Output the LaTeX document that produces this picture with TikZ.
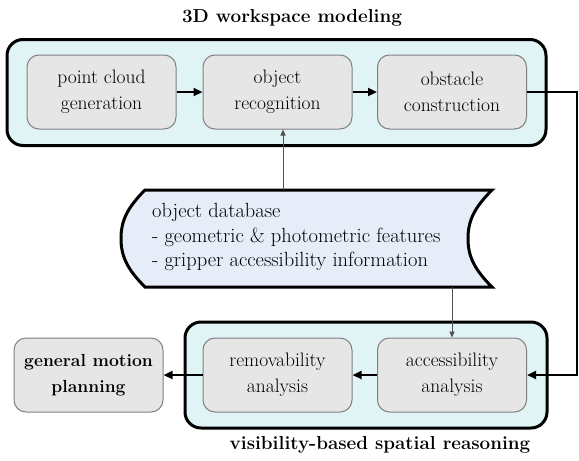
\documentclass[tikz,border=0pt]{standalone}
\usetikzlibrary{arrows.meta}

\definecolor{groupfill}{HTML}{E0F3F5}
\definecolor{stagefill}{HTML}{E6E6E6}
\definecolor{stageline}{HTML}{808080}
\definecolor{dbfill}{HTML}{E6EDF8}
\definecolor{thinline}{HTML}{505050}

\begin{document}
\begin{tikzpicture}[x=1pt,y=-1pt,
  group/.style={draw=black, line width=3pt, rounded corners=16pt, fill=groupfill,
    inner sep=0pt},
  stage/.style={draw=stageline, line width=1pt, rounded corners=12pt, fill=stagefill,
    minimum width=149pt, minimum height=74pt, align=center, inner sep=0pt,
    font=\fontsize{19.5}{26}\selectfont},
  title/.style={font=\fontsize{18.8}{24}\selectfont\bfseries},
  flow/.style={line width=2.6pt, -{Triangle[length=9pt,width=8pt]}},
  feed/.style={draw=thinline, line width=1pt, -{Triangle[length=6pt,width=5pt]}}
]
\useasboundingbox (0,0) rectangle (579,461);

% group frames
\node[group, minimum width=539pt, minimum height=106pt] (wsm) at (276.5,92.5) {};
\node[group, minimum width=362pt, minimum height=106pt] (vsr) at (366,375) {};

\node[title] (wsmlabel) at (292,18) {3D workspace modeling};
\node[title] (vsrlabel) at (380,445) {visibility-based spatial reasoning};

% modeling stages
\node[stage] (pcg) at (101.5,92) {point cloud\\generation};
\node[stage] (rec) at (277.5,92) {object\\recognition};
\node[stage] (obs) at (452,92) {obstacle\\construction};

% reasoning stages
\node[stage] (rem) at (277.5,375) {removability\\analysis};
\node[stage] (acc) at (452,375) {accessibility\\analysis};
\node[stage, font=\fontsize{17.5}{26}\selectfont\bfseries] (gmp) at (88.5,375) {general motion\\planning};

% object database (stored data shape)
\draw[line width=3pt, fill=dbfill, line join=miter]
  (145,190) -- (492,190)
  .. controls (474,208) and (468,221) .. (468,238.5)
  .. controls (468,256) and (474,269) .. (492,287)
  -- (145,287)
  .. controls (127,269) and (121,256) .. (121,238.5)
  .. controls (121,221) and (127,208) .. (145,190) -- cycle;
\node[anchor=west, align=left, inner sep=0pt,
  font=\fontsize{20.5}{24.5}\selectfont] (db) at (152,237)
  {object database\\- geometric \& photometric features\\- gripper accessibility information};
\coordinate (dbtop) at (283,190);
\coordinate (dbbot) at (452,287);

% connectors
\draw[flow] (pcg.east) -- (rec.west);
\draw[flow] (rec.east) -- (obs.west);
\coordinate (turn) at (577,92);
\draw[flow] (obs.east) -- (turn) |- (acc.east);
\draw[flow] (acc.west) -- (rem.east);
\draw[flow] (rem.west) -- (gmp.east);
\draw[feed] (dbtop) -- (dbtop |- rec.south);
\draw[feed] (dbbot) -- (acc.north);
\end{tikzpicture}
\end{document}
